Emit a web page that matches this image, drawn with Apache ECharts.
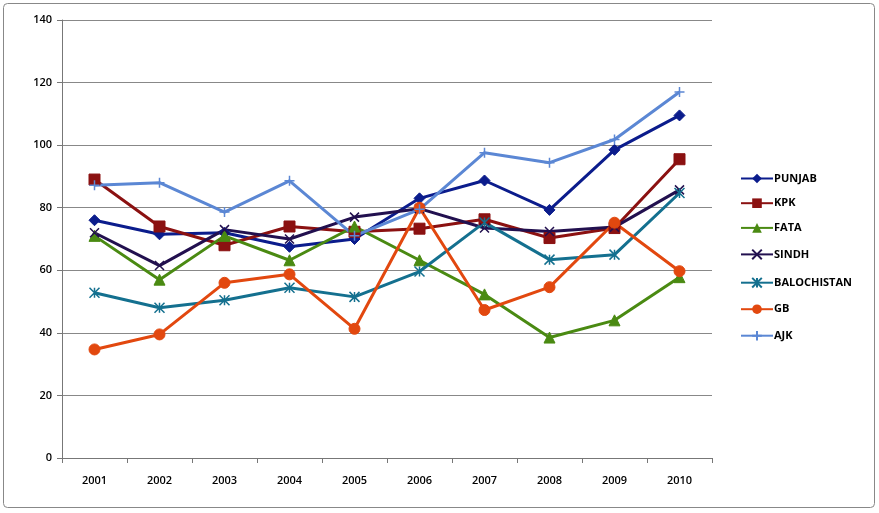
<!DOCTYPE html>
<html>
<head>
<meta charset="utf-8">
<script src="https://cdn.jsdelivr.net/npm/echarts@6/dist/echarts.min.js"></script>
<style>
  html, body { margin: 0; padding: 0; background: #fff; }
  #chart { width: 879px; height: 513px; }
</style>
</head>
<body>
<div id="chart"></div>
<script>
var years = ['2001', '2002', '2003', '2004', '2005', '2006', '2007', '2008', '2009', '2010'];

var punjab      = [76, 71.5, 72, 67.5, 70, 83, 88.7, 79.3, 98.5, 109.5];
var kpk         = [89, 74, 68, 74, 72.3, 73.3, 76.3, 70.3, 73.5, 95.5];
var fata        = [71, 57, 71, 63.2, 74, 63.2, 52.3, 38.5, 44, 57.8];
var sindh       = [72, 61.5, 73, 70, 77, 79.7, 73.5, 72.4, 73.8, 85.7];
var balochistan = [52.8, 48, 50.4, 54.4, 51.5, 59.6, 75.3, 63.4, 65, 84.7];
var gb          = [34.7, 39.5, 56, 58.7, 41.3, 80, 47.3, 54.6, 75.2, 59.7];
var ajk         = [87.2, 88, 78.6, 88.6, 71, 79.5, 97.6, 94.4, 101.8, 117];

var crossPath = 'path://M0,0L10,10M10,0L0,10';
var starPath = 'path://M0,0L10,10M10,0L0,10M5,0L5,10';
var plusPath = 'path://M5,0L5,10M0,5L10,5';

function mk(name, data, color, symbol, size, extra) {
  var s = {
    name: name,
    type: 'line',
    data: data,
    symbol: symbol,
    symbolSize: size,
    showAllSymbol: true,
    lineStyle: { color: color, width: 3 },
    itemStyle: { color: color, borderColor: color },
    animation: false
  };
  if (extra) {
    s.itemStyle = { color: 'none', borderColor: color, borderWidth: 1.5 };
  }
  return s;
}

var chart = echarts.init(document.getElementById('chart'));
chart.setOption({
  backgroundColor: '#fff',
  textStyle: { fontFamily: 'Open Sans, DejaVu Sans, sans-serif' },
  graphic: [{
    type: 'rect',
    shape: { x: 3.5, y: 3.5, width: 871, height: 504, r: 4 },
    style: { fill: 'none', stroke: '#888', lineWidth: 1 },
    silent: true
  }],
  grid: { left: 62, right: 167, top: 20, bottom: 55 },
  legend: {
    orient: 'vertical',
    left: 735,
    top: 168,
    itemGap: 13.7,
    itemWidth: 32,
    itemHeight: 12,
    textStyle: { fontSize: 11, fontWeight: 'bold', color: '#000', padding: [0, 0, 0, -4] },
    data: ['PUNJAB', 'KPK', 'FATA', 'SINDH', 'BALOCHISTAN', 'GB', 'AJK']
  },
  xAxis: {
    type: 'category',
    data: years,
    boundaryGap: true,
    axisLine: { lineStyle: { color: '#777', width: 1 } },
    axisTick: { show: true, length: 5, lineStyle: { color: '#777' } },
    axisLabel: { fontSize: 11, fontWeight: 600, color: '#000', margin: 17 }
  },
  yAxis: {
    type: 'value',
    min: 0,
    max: 140,
    interval: 20,
    axisLine: { show: true, lineStyle: { color: '#777', width: 1 } },
    axisTick: { show: true, length: 5, lineStyle: { color: '#777' } },
    axisLabel: { fontSize: 11, fontWeight: 600, color: '#000', margin: 10 },
    splitLine: { lineStyle: { color: '#888', width: 1 } }
  },
  series: [
    mk('PUNJAB', punjab, '#0b1c8c', 'diamond', 11),
    mk('KPK', kpk, '#8b1111', 'rect', 11),
    mk('FATA', fata, '#4a8a12', 'triangle', 11),
    mk('SINDH', sindh, '#22104f', crossPath, 9, true),
    mk('BALOCHISTAN', balochistan, '#14708f', starPath, 10, true),
    mk('GB', gb, '#e2480f', 'circle', 11),
    mk('AJK', ajk, '#5b87d4', plusPath, 10, true)
  ]
});
</script>
</body>
</html>
